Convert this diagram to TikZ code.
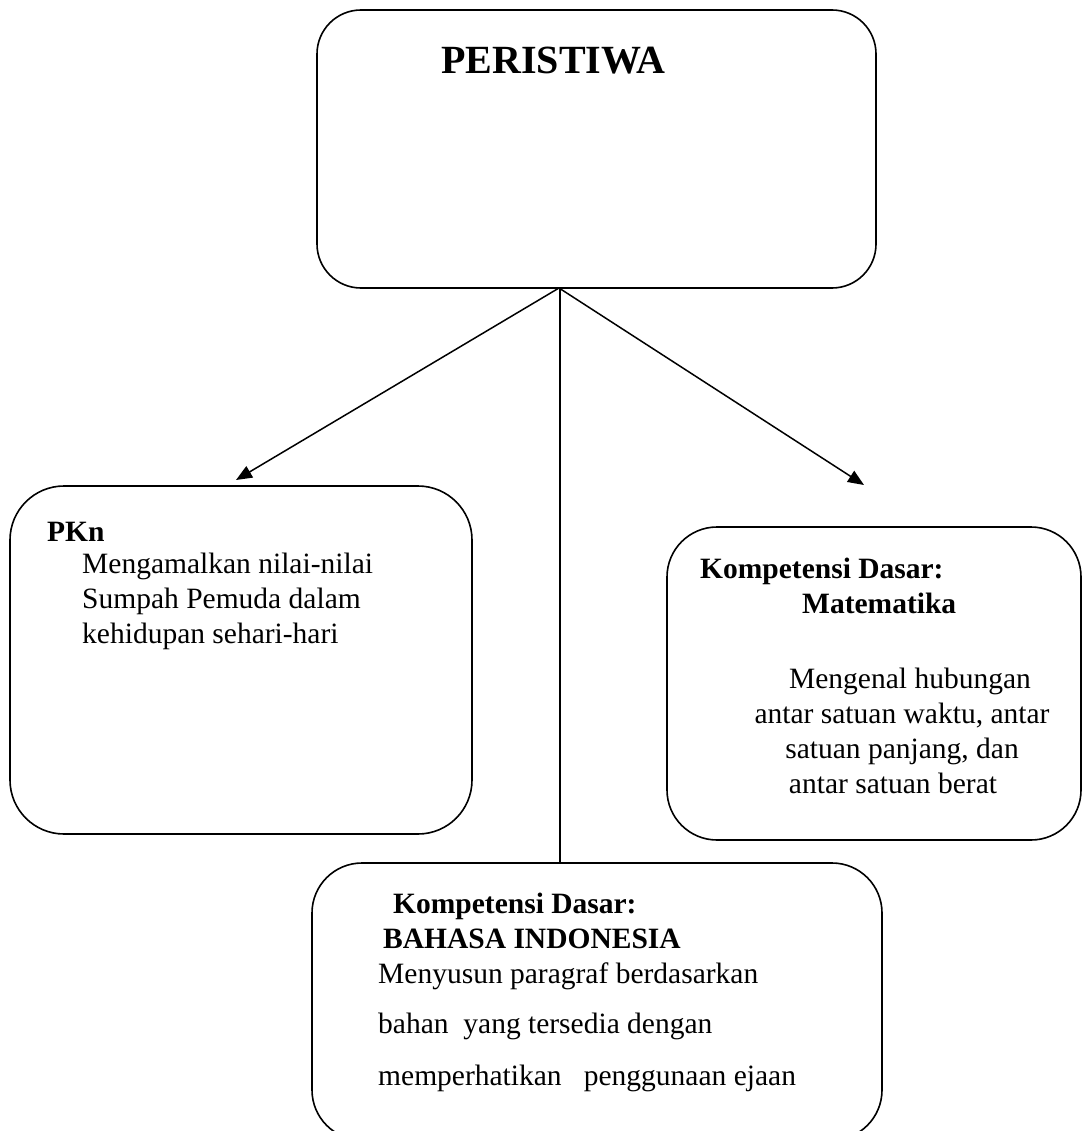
\documentclass[tikz,border=0pt]{standalone}
\usepackage{fontspec}
\setmainfont{Liberation Serif}
\usetikzlibrary{arrows.meta}
\begin{document}
\begin{tikzpicture}[x=1pt,y=-1pt,
  box/.style={draw, line width=1.6pt, rounded corners=#1, inner sep=0pt, outer sep=0pt},
  box/.default=48pt,
  txt/.style={anchor=base west, inner sep=0pt, font=\fontsize{29.5}{35}\selectfont},
  btxt/.style={txt, font=\fontsize{29.5}{35}\selectfont\bfseries},
  ctxt/.style={anchor=base, inner sep=0pt, font=\fontsize{29.5}{35}\selectfont},
  conn/.style={line width=1.5pt},
  arr/.style={conn, -{Triangle[length=16pt,width=13pt]}}]
\useasboundingbox (0,0) rectangle (1083,1131);
\clip (0,0) rectangle (1083,1131);
% boxes
\node[box=44pt, minimum width=559pt, minimum height=278pt] (top) at (596.5,149) {};
\node[box=54pt, minimum width=462pt, minimum height=348pt] (pkn) at (241,660) {};
\node[box=50pt, minimum width=414pt, minimum height=313pt] (mat) at (874,683.5) {};
\node[box=50pt, minimum width=570pt, minimum height=277pt] (bi) at (597,1001.5) {};
% texts
\node[anchor=base west, inner sep=0pt, font=\fontsize{40}{48}\selectfont\bfseries] (t1) at (441,74) {PERISTIWA};
\node[btxt] (p0) at (47,541) {PKn};
\node[txt] (p1) at (82,573) {Mengamalkan nilai-nilai};
\node[txt] (p2) at (82,608) {Sumpah Pemuda dalam};
\node[txt] (p3) at (82,643) {kehidupan sehari-hari};
\node[btxt] (m0) at (700,578) {Kompetensi Dasar:};
\node[btxt] (m1) at (802,613) {Matematika};
\node[ctxt] (m2) at (910,688) {Mengenal hubungan};
\node[ctxt] (m3) at (902,723) {antar satuan waktu, antar};
\node[ctxt] (m4) at (902,758) {satuan panjang, dan};
\node[ctxt] (m5) at (893,793) {antar satuan berat};
\node[btxt] (b0) at (393,913) {Kompetensi Dasar:};
\node[btxt] (b1) at (383,948) {BAHASA INDONESIA};
\node[txt] (b2) at (378,983) {Menyusun paragraf berdasarkan};
\node[txt] (b3) at (378,1033) {bahan\ \ yang tersedia dengan};
\node[txt] (b4) at (378,1085) {memperhatikan\ \ \ penggunaan ejaan};
% connectors
\coordinate (src) at (559,288);
\coordinate (lt) at (236,480);
\coordinate (rt) at (864,485);
\coordinate (vt) at (560,288);
\draw[arr] (src) -- (lt);
\draw[arr] (src) -- (rt);
\draw[conn] (vt) -- (vt |- bi.north);
\end{tikzpicture}
\end{document}
